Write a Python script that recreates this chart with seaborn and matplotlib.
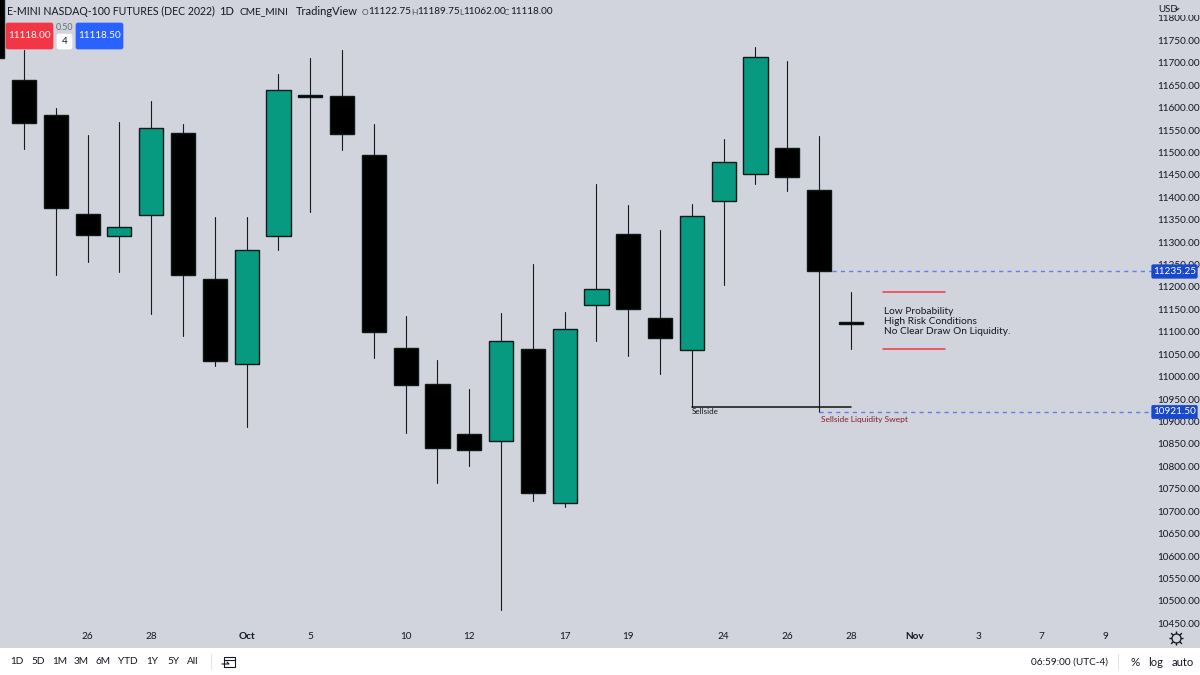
import matplotlib
matplotlib.use("Agg")

import numpy as np
import pandas as pd
import matplotlib.pyplot as plt
from matplotlib.patches import FancyBboxPatch, Rectangle
import seaborn as sns

# ── Palette ───────────────────────────────────────────────────────────────────
BG = "#D1D4DC"
GREEN = "#089981"
BLACK = "#000000"
TEXT = "#131722"
RED_BTN = "#F23645"
BLUE_BTN = "#2962FF"
LABEL_BLUE = "#1848CC"
DASH_BLUE = "#5B80E8"
SWEPT = "#8A1C2E"
RED_LINE = "#F23645"

# ── Data (first candle is the clipped one top left) ───────────────────────────
opens = [11900, 11662, 11584, 11363, 11314, 11360, 11544, 11218, 11028, 11314, 11629, 11626, 11494, 11064,
         10983, 10872, 10856, 11061, 10718, 11160, 11318, 11131, 11059, 11392, 11452, 11510, 11416, 11122.75]
closes = [11711, 11566, 11376, 11316, 11334, 11555, 11227, 11035, 11282, 11640, 11624, 11541, 11099, 10981,
          10840, 10836, 11079, 10740, 11106, 11195, 11151, 11086, 11358, 11479, 11713, 11445, 11235.25, 11118]
highs = [11950, 11729, 11599, 11539, 11568, 11615, 11564, 11356, 11356, 11675, 11711, 11729, 11564, 11135,
         11037, 10972, 11142, 11251, 11144, 11430, 11383, 11327, 11385, 11530, 11735, 11704, 11537, 11189.75]
lows = [11650, 11508, 11227, 11256, 11233, 11140, 11090, 11023, 10887, 11282, 11367, 11506, 11041, 10874,
        10762, 10800, 10479, 10722, 10709, 11079, 11046, 11006, 10932, 11204, 11430, 11414, 10921.5, 11062]

price_ticks = [10450 + 50 * i for i in range(28)]
date_ticks = [2, 4, 7, 9, 12, 14, 17, 19, 22, 24, 26, 28, 30, 32, 34]
date_labels = ["26", "28", "Oct", "5", "10", "12", "17", "19", "24", "26", "28", "Nov", "3", "7", "9"]
range_buttons = ["1D", "5D", "1M", "3M", "6M", "YTD", "1Y", "5Y", "All"]
bold_dates = ["Oct", "Nov"]

session_high = 11235.25
session_low = 10921.50
sellside_level = 10932
note_top = 11189.75
note_bottom = 11062

FONT = "Lato"
sns.set_theme(style="white", rc={"figure.facecolor": BG, "axes.facecolor": BG})
plt.rcParams["font.family"] = FONT

candles = pd.DataFrame({"idx": np.arange(len(opens)) - 1, "open": opens, "close": closes,
                        "high": highs, "low": lows})
candles["bottom"] = candles[["open", "close"]].min(axis=1)
candles["height"] = (candles["open"] - candles["close"]).abs()
candles["up"] = candles["close"] >= candles["open"]

wicks = candles.melt(id_vars="idx", value_vars=["high", "low"], value_name="price")

fig = plt.figure(figsize=(12, 6.75), dpi=100)
ax = fig.add_axes([0, 27.5 / 675, 1152 / 1200, 647.5 / 675])

# ── Candles ───────────────────────────────────────────────────────────────────
sns.lineplot(data=wicks, x="idx", y="price", units="idx", estimator=None, color="#1A1A1A",
             linewidth=0.8, ax=ax, zorder=1)
for is_up, colour in [(True, GREEN), (False, BLACK)]:
    sub = candles[candles["up"] == is_up]
    sns.barplot(data=sub, x="idx", y="height", bottom=sub["bottom"].to_numpy(), native_scale=True,
                color=colour, saturation=1, width=0.76, edgecolor="#0B1A17", linewidth=1.0,
                ax=ax, zorder=2, errorbar=None)

ax.set_xlim(-0.755, 35.47)
ax.set_ylim(10396, 11840)
ax.set_xlabel("")
ax.set_ylabel("")
ax.yaxis.tick_right()
ax.set_yticks(price_ticks)
ax.set_yticklabels([f"{p:.2f}" for p in price_ticks], fontsize=7.2, color=TEXT)
ax.tick_params(axis="y", length=0, pad=4)
ax.set_xticks(date_ticks)
ax.set_xticklabels(date_labels, fontsize=7.2, color=TEXT)
ax.tick_params(axis="x", length=0, pad=-11)
for lab in ax.get_xticklabels():
    if lab.get_text() in bold_dates:
        lab.set_fontweight("bold")
sns.despine(ax=ax, left=True, bottom=True, top=True, right=True)

# ── Drawings ──────────────────────────────────────────────────────────────────
ax.plot([25.4, 35.47], [session_high] * 2, color=DASH_BLUE, lw=1.0, ls=(0, (3, 3)), zorder=1.5)
ax.plot([25, 35.47], [session_low] * 2, color=DASH_BLUE, lw=1.0, ls=(0, (3, 3)), zorder=1.5)
ax.plot([21, 26], [sellside_level] * 2, color="#111111", lw=1.1, zorder=3)
ax.plot([27, 28.95], [note_top] * 2, color=RED_LINE, lw=1.1, zorder=3)
ax.plot([27, 28.95], [note_bottom] * 2, color=RED_LINE, lw=1.1, zorder=3)

# ── Chrome drawn in pixel coordinates on top ──────────────────────────────────
ov = fig.add_axes([0, 0, 1, 1])
ov.set_xlim(0, 1200)
ov.set_ylim(675, 0)
ov.axis("off")
ov.patch.set_alpha(0)


def label(x, y, s, size=7.2, color=TEXT, ha="left", **kw):
    ov.text(x, y, s, fontsize=size, color=color, ha=ha, va="center", **kw)


def button(x0, y0, x1, y1, color, edge=None):
    ov.add_patch(FancyBboxPatch((x0 + 2, y0 + 2), x1 - x0 - 4, y1 - y0 - 4, boxstyle="round,pad=2",
                                fc=color, ec=edge or color, lw=0.5, zorder=5))


label(7, 11.5, "E-MINI NASDAQ-100 FUTURES (DEC 2022)", size=7.6)
label(219, 11.5, "1D", size=8.0)
label(240, 11.5, "CME_MINI", size=7.3)
label(296, 11.5, "TradingView", size=8.0)
for x_letter, x_val, letter, val in [(362, 368, "O", "11122.75"), (411, 417, "H", "11189.75"),
                                     (459, 463, "L", "11062.00"), (504, 510, "C", "11118.00")]:
    label(x_letter, 12.5, letter, size=6.0, color="#4A4E5A")
    label(x_val, 12, val, size=7.2)

button(6, 23, 53, 49, RED_BTN)
button(76, 23, 123, 49, BLUE_BTN)
button(57, 34, 72, 49, "white")
ov.text(29.5, 36, "11118.00", fontsize=7.2, color="white", ha="center", va="center", zorder=6)
ov.text(99.5, 36, "11118.50", fontsize=7.2, color="white", ha="center", va="center", zorder=6)
ov.text(64.5, 41.5, "4", fontsize=7.0, color=TEXT, ha="center", va="center", zorder=6)
ov.text(64.5, 27, "0.50", fontsize=6.4, color="#6A6D78", ha="center", va="center", zorder=6)

# mask the price scale top so 11800 is cut like a scrolled label
ov.add_patch(Rectangle((1152, 0), 48, 15, fc=BG, ec="none", zorder=4))
label(1158, 9, "USD", size=7.0, zorder=5)
ov.plot([1175, 1177, 1179], [8.5, 10, 8.5], color=TEXT, lw=0.7, zorder=5)

for y, s in [(271.5, "11235.25"), (412, "10921.50")]:
    ov.add_patch(FancyBboxPatch((1153, y - 5.5), 43, 11, boxstyle="round,pad=1.2", fc=LABEL_BLUE,
                                ec=LABEL_BLUE, lw=0.5, zorder=5))
    ov.text(1174.5, y, s, fontsize=7.2, color="white", ha="center", va="center", zorder=6)

label(884, 311, "Low Probability", size=7.3)
label(884, 321, "High Risk Conditions", size=7.3)
label(884, 331, "No Clear Draw On Liquidity.", size=7.3)
label(692, 411.5, "Sellside", size=5.8)
label(821, 419.5, "Sellside Liquidity Swept", size=6.0, color=SWEPT)

# bottom toolbar
ov.add_patch(Rectangle((0, 648), 1200, 27, fc="white", ec="none", zorder=3))
for x, s in zip([17, 38, 60, 81, 103, 128, 152, 173, 193], range_buttons):
    ov.text(x, 662, s, fontsize=7.2, color=TEXT, ha="center", va="center", zorder=4)
ov.plot([211, 211], [654, 669], color="#E0E3EB", lw=0.8, zorder=4)
ov.add_patch(Rectangle((224, 656.5), 10.5, 10.5, fc="none", ec=TEXT, lw=0.8, zorder=4))
ov.plot([224, 234.5], [659.5, 659.5], color=TEXT, lw=0.8, zorder=4)
ov.plot([222, 229, 227], [664, 664, 662], color=TEXT, lw=0.8, zorder=5)
ov.text(1069.5, 662, "06:59:00 (UTC-4)", fontsize=7.2, color=TEXT, ha="center", va="center", zorder=4)
ov.plot([1118, 1118], [654, 669], color="#E0E3EB", lw=0.8, zorder=4)
ov.text(1135, 662, "%", fontsize=8.4, color=TEXT, ha="center", va="center", zorder=4)
ov.text(1156, 662, "log", fontsize=8.0, color=TEXT, ha="center", va="center", zorder=4)
ov.text(1183, 662, "auto", fontsize=8.0, color=TEXT, ha="center", va="center", zorder=4)

# settings gear
ov.scatter([1176], [638], marker="+", s=90, color=TEXT, linewidths=1.0, zorder=4)
ov.scatter([1176], [638], marker="x", s=60, color=TEXT, linewidths=1.0, zorder=4)
ov.scatter([1176], [638], marker="o", s=42, facecolor=BG, edgecolor=TEXT, linewidths=0.9, zorder=5)

fig.savefig("out.png", dpi=100)
plt.close()
